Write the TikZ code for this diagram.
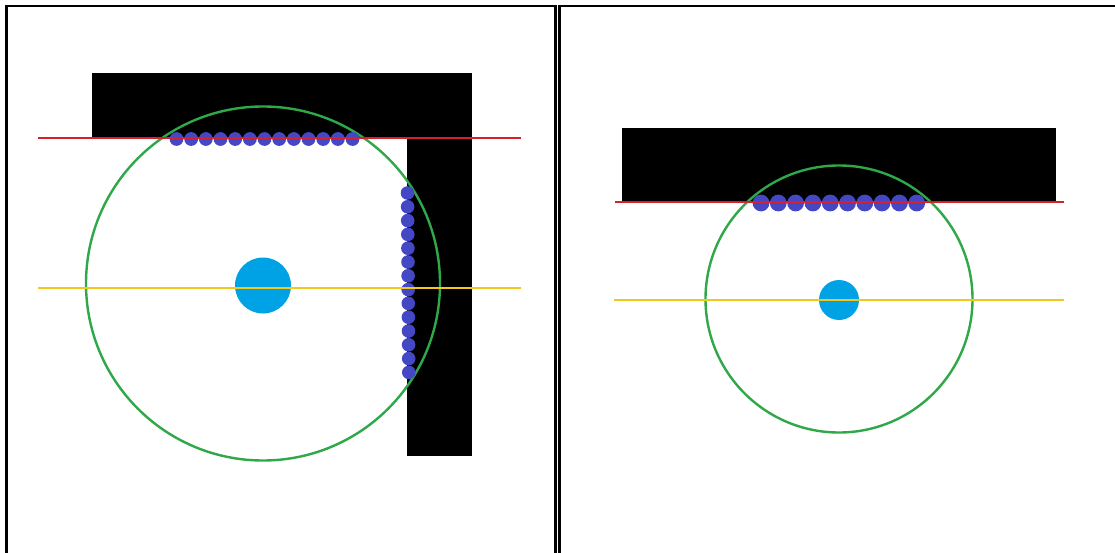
\documentclass[tikz,border=0pt]{standalone}
\begin{document}
\begin{tikzpicture}[x=1pt,y=-1pt,
  frame/.style={line width=2.5pt,black},
  redline/.style={line width=2pt,color=lred},
  yelline/.style={line width=2pt,color=lyel},
  ring/.style={line width=2.4pt,color=lgreen},
  dot/.style={fill=ldot}]
\definecolor{lred}{RGB}{214,32,44}
\definecolor{lyel}{RGB}{242,200,30}
\definecolor{lgreen}{RGB}{46,168,72}
\definecolor{lcyan}{RGB}{0,162,230}
\definecolor{ldot}{RGB}{68,72,196}
\useasboundingbox (0,0) rectangle (1115,553);
\fill[white] (0,0) rectangle (1115,553);
% frames
\draw[frame] (6.5,570) -- (6.5,6) -- (555.5,6) -- (555.5,570);
\draw[frame] (559.5,570) -- (559.5,6) -- (1120,6);
% ---- left panel ----
\fill[black] (92,73) rectangle (472,138);
\fill[black] (407,138) rectangle (472,456);
\draw[ring] (263,283.5) circle (177);
\foreach \i in {0,...,12} \fill[ldot] (176.5+14.67*\i,139) circle (6.9);
\foreach \i in {0,...,13} \fill[ldot] (407.5+0.1*\i,193+13.8*\i) circle (6.8);
\draw[redline] (38,138.5) -- (521,138.5);
\fill[lcyan] (263,285.5) circle (28);
\draw[yelline] (38,288) -- (521,288);
% ---- right panel ----
\fill[black] (622,128) rectangle (1056,202);
\draw[ring] (839,299) circle (133.5);
\foreach \i in {0,...,9} \fill[ldot] (761+17.3*\i,203) circle (8.4);
\draw[redline] (615,202.5) -- (1064,202.5);
\fill[lcyan] (839,300) circle (20);
\draw[yelline] (614,299.5) -- (1064,299.5);
\end{tikzpicture}
\end{document}
